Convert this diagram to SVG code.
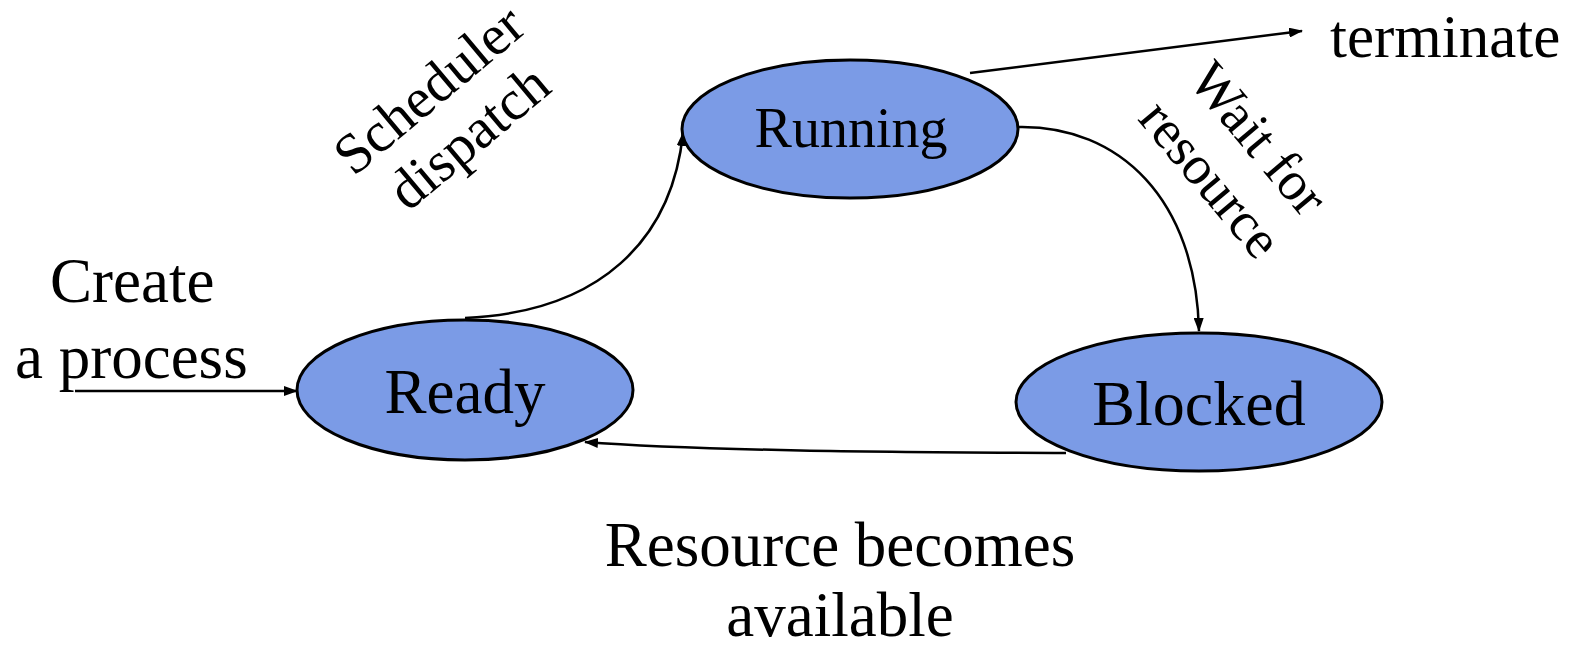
<svg xmlns="http://www.w3.org/2000/svg" width="1573" height="647" viewBox="0 0 1573 647">
<style>
.node{fill:#7B9BE6;stroke:#000;stroke-width:3}
.t{font-family:"Liberation Serif","Times New Roman",serif;fill:#000}
.c{fill:none;stroke:#000;stroke-width:2.5}
</style>
<defs>
<marker id="ah" markerWidth="14" markerHeight="10" refX="13" refY="5" orient="auto" markerUnits="userSpaceOnUse">
<path d="M0,0 L14,5 L0,10 Z" fill="#000"/>
</marker>
</defs>
<rect width="1573" height="647" fill="#fff"/>
<g id="connectors">
<path class="c" d="M75,391 L297,391" marker-end="url(#ah)"/>
<path class="c" d="M465,318 C600,312 672,240 683,133" marker-end="url(#ah)"/>
<path class="c" d="M1018,127 C1120,125 1196,200 1199,331" marker-end="url(#ah)"/>
<path class="c" d="M970,73 L1302,31" marker-end="url(#ah)"/>
<path class="c" d="M1066,453 C900,452 700,451 585,442" marker-end="url(#ah)"/>
</g>
<g id="running">
<ellipse class="node" cx="850" cy="129" rx="168" ry="69"/>
<text class="t" x="851" y="147" font-size="56" text-anchor="middle">Running</text>
</g>
<g id="ready">
<ellipse class="node" cx="465" cy="390" rx="168" ry="70"/>
<text class="t" x="465" y="413" font-size="63" text-anchor="middle">Ready</text>
</g>
<g id="blocked">
<ellipse class="node" cx="1199" cy="402" rx="183" ry="69"/>
<text class="t" x="1199" y="425" font-size="64" text-anchor="middle">Blocked</text>
</g>
<g id="labels">
<text class="t" x="1330" y="57" font-size="61">terminate</text>
<text class="t" x="50" y="302" font-size="63">Create</text>
<text class="t" x="15" y="378" font-size="63">a process</text>
<text class="t" x="840" y="566" font-size="63" text-anchor="middle">Resource becomes</text>
<text class="t" x="840" y="636" font-size="63" text-anchor="middle">available</text>
<g transform="translate(441,104) rotate(-40)">
<text class="t" x="0" y="0" font-size="57" text-anchor="middle">Scheduler</text>
<text class="t" x="0" y="62" font-size="57" text-anchor="middle">dispatch</text>
</g>
<g transform="translate(1245,150) rotate(50)">
<text class="t" x="0" y="0" font-size="55" text-anchor="middle">Wait for</text>
<text class="t" x="0" y="63" font-size="55" text-anchor="middle">resource</text>
</g>
</g>
</svg>
